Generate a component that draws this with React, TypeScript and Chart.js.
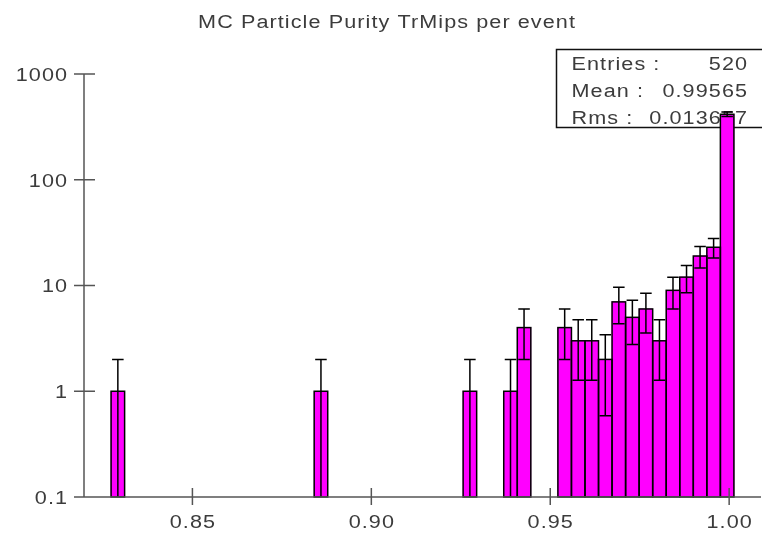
import { useEffect, useRef } from "react";
import { Chart, registerables } from "chart.js";

Chart.register(...registerables);

// Histogram definition: 50 equal bins over the x range
const TITLE = "MC Particle Purity TrMips per event";
const X_MIN = 0.8197;
const X_MAX = 1.0089;
const N_BINS = 50;

// Non-empty bins (bin index) and their entry counts
const filledBins = [2, 17, 28, 31, 32, 35, 36, 37, 38, 39, 40, 41, 42, 43, 44, 45, 46, 47];
const binCounts = [1, 1, 1, 1, 4, 4, 3, 3, 2, 7, 5, 6, 3, 9, 12, 19, 23, 416];

// Axis ticks
const xTickValues = [0.85, 0.9, 0.95, 1.0];
const xTickLabels = ["0.85", "0.90", "0.95", "1.00"];
const yTickValues = [0.1, 1, 10, 100, 1000];
const yTickLabels = ["0.1", "1", "10", "100", "1000"];

// Statistics box
const statNames = ["Entries :", "Mean :", "Rms :"];
const statValues = ["520", "0.99565", "0.013657"];

const FONT = "18px 'Liberation Sans', Arial, sans-serif";
const TEXT_COLOR = "#3c3c3c";
const AXIS_COLOR = "#555555";
const SPACING = 0.9; // letter spacing, in unscaled text units
const TEXT_SX = 1.2; // horizontal stretch of the wide screen font

// Draws text with a horizontal stretch; x is the anchor for the given alignment
function drawText(
  ctx: CanvasRenderingContext2D,
  text: string,
  x: number,
  y: number,
  align: CanvasTextAlign,
  baseline: CanvasTextBaseline = "alphabetic"
) {
  ctx.save();
  ctx.font = FONT;
  ctx.fillStyle = TEXT_COLOR;
  (ctx as any).letterSpacing = SPACING + "px";
  ctx.textAlign = align;
  ctx.textBaseline = baseline;
  ctx.translate(x, y);
  ctx.scale(TEXT_SX, 1);
  // letterSpacing adds a trailing gap; shift so the glyphs sit on the anchor
  let dx = 0;
  if (align === "right") dx = SPACING;
  else if (align === "center") dx = SPACING / 2;
  ctx.fillText(text, dx, 0);
  ctx.restore();
}

const histDecor = {
  id: "histDecor",
  beforeDatasetsDraw(chart: any) {
    const ctx: CanvasRenderingContext2D = chart.ctx;
    ctx.save();
    // stats box, drawn under the bars
    const bx = 556.5;
    const by = 49.5;
    const bw = 230;
    const bh = 78;
    ctx.fillStyle = "#ffffff";
    ctx.fillRect(bx, by, bw, bh);
    ctx.strokeStyle = "#111111";
    ctx.lineWidth = 1.5;
    ctx.strokeRect(bx, by, bw, bh);
    ctx.restore();
    const rows = [70, 97, 124];
    statNames.forEach((name, i) => {
      drawText(ctx, name, 571.5, rows[i], "left");
      drawText(ctx, statValues[i], 747, rows[i], "right");
    });
  },
  afterDatasetsDraw(chart: any) {
    const ctx: CanvasRenderingContext2D = chart.ctx;
    const yScale = chart.scales.y;
    const meta = chart.getDatasetMeta(0);
    ctx.save();
    ctx.strokeStyle = "#000000";
    ctx.lineWidth = 1.5;
    meta.data.forEach((el: any, i: number) => {
      const { x, y, base, width } = el.getProps(["x", "y", "base", "width"], true);
      // bar outline
      ctx.strokeRect(x - width / 2, y, width, base - y);
      // sqrt(N) error bar
      const n = binCounts[i];
      const err = Math.sqrt(n);
      const yHi = yScale.getPixelForValue(n + err);
      const lo = n - err;
      const yLo = lo > 0 ? yScale.getPixelForValue(lo) : yScale.bottom;
      ctx.beginPath();
      ctx.moveTo(x, yLo);
      ctx.lineTo(x, yHi);
      ctx.moveTo(x - width / 2 + 1, yHi);
      ctx.lineTo(x + width / 2 - 1, yHi);
      if (lo > 0) {
        ctx.moveTo(x - width / 2 + 1, yLo);
        ctx.lineTo(x + width / 2 - 1, yLo);
      }
      ctx.stroke();
    });
    ctx.restore();
  },
  afterDraw(chart: any) {
    const ctx: CanvasRenderingContext2D = chart.ctx;
    const { left, right, top, bottom } = chart.chartArea;
    const xScale = chart.scales.x;
    const yScale = chart.scales.y;
    ctx.save();
    // axes
    ctx.strokeStyle = AXIS_COLOR;
    ctx.lineWidth = 1.5;
    ctx.beginPath();
    ctx.moveTo(left, top);
    ctx.lineTo(left, bottom);
    ctx.moveTo(left, bottom);
    ctx.lineTo(right, bottom);
    yTickValues.forEach((v) => {
      const py = yScale.getPixelForValue(v);
      ctx.moveTo(left - 10, py);
      ctx.lineTo(left + 11, py);
    });
    xTickValues.forEach((v) => {
      const px = xScale.getPixelForValue(v);
      ctx.moveTo(px, bottom - 9);
      ctx.lineTo(px, bottom + 8);
    });
    ctx.stroke();
    ctx.restore();

    // y tick labels
    yTickValues.forEach((v, i) => {
      const py = yScale.getPixelForValue(v);
      drawText(ctx, yTickLabels[i], left - 17, py + 2, "right", "middle");
    });
    // x tick labels
    xTickValues.forEach((v, i) => {
      const px = xScale.getPixelForValue(v);
      drawText(ctx, xTickLabels[i], px, bottom + 31, "center");
    });
    // title
    drawText(ctx, TITLE, 386.5, 28, "center");
  },
};

export default function App() {
  const canvasRef = useRef<HTMLCanvasElement | null>(null);

  useEffect(() => {
    const canvas = canvasRef.current;
    if (!canvas) return;
    const binWidth = (X_MAX - X_MIN) / N_BINS;
    const points = filledBins.map((b, i) => ({
      x: X_MIN + (b + 0.5) * binWidth,
      y: binCounts[i],
    }));

    const chart = new Chart(canvas, {
      type: "bar",
      data: {
        datasets: [
          {
            label: TITLE,
            data: points as any,
            backgroundColor: "#ff00ff",
            borderWidth: 0,
            barPercentage: 1,
            categoryPercentage: 1,
          },
        ],
      },
      options: {
        animation: false,
        responsive: false,
        devicePixelRatio: 1,
        layout: { padding: { top: 74, right: 1, bottom: 0, left: 0 } },
        plugins: {
          legend: { display: false },
          title: { display: false },
          tooltip: { enabled: false },
        },
        scales: {
          x: {
            type: "linear",
            min: X_MIN,
            max: X_MAX,
            offset: false,
            grid: { display: false },
            border: { display: false },
            ticks: { display: false },
            afterBuildTicks: (scale: any) => {
              scale.ticks = xTickValues.map((value) => ({ value }));
            },
            afterFit: (scale: any) => {
              scale.height = 39;
            },
          },
          y: {
            type: "logarithmic",
            min: 0.1,
            max: 1000,
            grid: { display: false },
            border: { display: false },
            ticks: { display: false },
            afterBuildTicks: (scale: any) => {
              scale.ticks = yTickValues.map((value) => ({ value }));
            },
            afterFit: (scale: any) => {
              scale.width = 84;
            },
          },
        },
      },
      plugins: [histDecor],
    });

    return () => {
      chart.destroy();
    };
  }, []);

  return (
    <div
      style={{
        position: "fixed",
        left: 0,
        top: 0,
        width: 762,
        height: 536,
        background: "#ffffff",
        overflow: "hidden",
      }}
    >
      <canvas ref={canvasRef} width={762} height={536} style={{ display: "block" }} />
    </div>
  );
}
